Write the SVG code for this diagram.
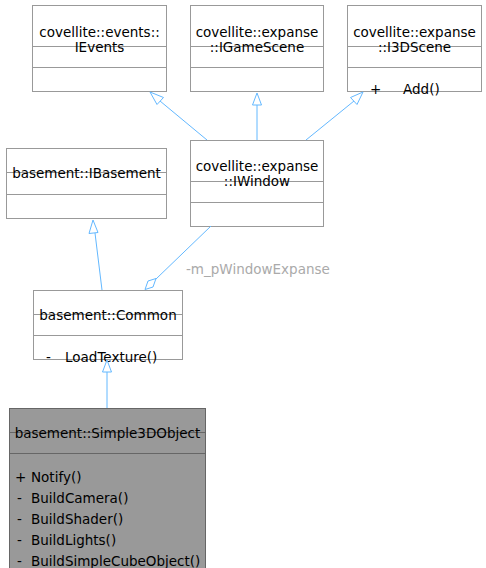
<svg xmlns="http://www.w3.org/2000/svg" width="486" height="568" viewBox="0 0 486 568">
<style>
.box{fill:#fff;stroke:#999;stroke-width:1}
.sel{fill:#999;stroke:#666;stroke-width:1}
.sep{stroke:#999;stroke-width:1}
.sep2{stroke:#666;stroke-width:1}
text{font-family:"DejaVu Sans","Liberation Sans",sans-serif;font-size:13.5px;fill:#000}
.c{text-anchor:middle}
.edge{stroke:#63b8ff;stroke-width:1;fill:none}
.head{stroke:#63b8ff;stroke-width:1;fill:#fff}
.lbl{fill:#aaa}
</style>
<rect width="486" height="568" fill="#fff"/>
<g id="IEvents">
<rect class="box" x="32.5" y="5.5" width="134" height="86"/>
<line class="sep" x1="32.5" y1="46.5" x2="166.5" y2="46.5"/>
<line class="sep" x1="32.5" y1="67.5" x2="166.5" y2="67.5"/>
<text class="c" x="99.5" y="37">covellite::events::</text>
<text class="c" x="99.5" y="52">IEvents</text>
</g>
<g id="IGameScene">
<rect class="box" x="190.5" y="5.5" width="133" height="86"/>
<line class="sep" x1="190.5" y1="46.5" x2="323.5" y2="46.5"/>
<line class="sep" x1="190.5" y1="67.5" x2="323.5" y2="67.5"/>
<text class="c" x="257" y="37">covellite::expanse</text>
<text class="c" x="257" y="52">::IGameScene</text>
</g>
<g id="I3DScene">
<rect class="box" x="347.5" y="5.5" width="134" height="86"/>
<line class="sep" x1="347.5" y1="46.5" x2="481.5" y2="46.5"/>
<line class="sep" x1="347.5" y1="67.5" x2="481.5" y2="67.5"/>
<text class="c" x="414.5" y="37">covellite::expanse</text>
<text class="c" x="414.5" y="52">::I3DScene</text>
<text x="370" y="94">+</text>
<text x="403" y="94">Add()</text>
</g>
<g id="IBasement">
<rect class="box" x="6.5" y="148.5" width="160" height="70"/>
<line class="sep" x1="6.5" y1="172.5" x2="166.5" y2="172.5"/>
<line class="sep" x1="6.5" y1="194.5" x2="166.5" y2="194.5"/>
<text class="c" x="86.5" y="178">basement::IBasement</text>
</g>
<g id="IWindow">
<rect class="box" x="190.5" y="140.5" width="133" height="86"/>
<line class="sep" x1="190.5" y1="181.5" x2="323.5" y2="181.5"/>
<line class="sep" x1="190.5" y1="202.5" x2="323.5" y2="202.5"/>
<text class="c" x="257" y="171">covellite::expanse</text>
<text class="c" x="257" y="186">::IWindow</text>
</g>
<g id="Common">
<rect class="box" x="33.5" y="290.5" width="149" height="69"/>
<line class="sep" x1="33.5" y1="314.5" x2="182.5" y2="314.5"/>
<line class="sep" x1="33.5" y1="335.5" x2="182.5" y2="335.5"/>
<text class="c" x="108" y="320">basement::Common</text>
<text x="46" y="362">-</text>
<text x="65" y="362">LoadTexture()</text>
</g>
<g id="Simple3DObject">
<rect class="sel" x="9.5" y="408.5" width="196" height="162"/>
<line class="sep2" x1="9.5" y1="432.5" x2="205.5" y2="432.5"/>
<line class="sep2" x1="9.5" y1="453.5" x2="205.5" y2="453.5"/>
<text class="c" x="107.5" y="438">basement::Simple3DObject</text>
<text x="15" y="482">+</text><text x="31" y="482">Notify()</text>
<text x="17" y="503">-</text><text x="31" y="503">BuildCamera()</text>
<text x="17" y="524">-</text><text x="31" y="524">BuildShader()</text>
<text x="17" y="545">-</text><text x="31" y="545">BuildLights()</text>
<text x="17" y="566">-</text><text x="31" y="566">BuildSimpleCubeObject()</text>
</g>
<g id="connectors">
<line class="edge" x1="207" y1="140" x2="160" y2="101"/>
<polygon class="head" points="150,92 163.5,97.5 157,104.5"/>
<line class="edge" x1="257" y1="140" x2="257" y2="105"/>
<polygon class="head" points="257,93 261.5,105 252.5,105"/>
<line class="edge" x1="306" y1="140" x2="354" y2="101"/>
<polygon class="head" points="363,92 357,104.5 350.5,97.5"/>
<line class="edge" x1="102" y1="290" x2="95" y2="233"/>
<polygon class="head" points="93,220 98,232.5 89,233.5"/>
<line class="edge" x1="211" y1="226" x2="156" y2="279"/>
<polygon class="head" points="145,289.5 148,281 156,278.5 153,287"/>
<line class="edge" x1="107" y1="408" x2="107" y2="372"/>
<polygon class="head" points="107,360 111.5,372 102.5,372"/>
<text class="lbl" x="186" y="274">-m_pWindowExpanse</text>
</g>
</svg>
